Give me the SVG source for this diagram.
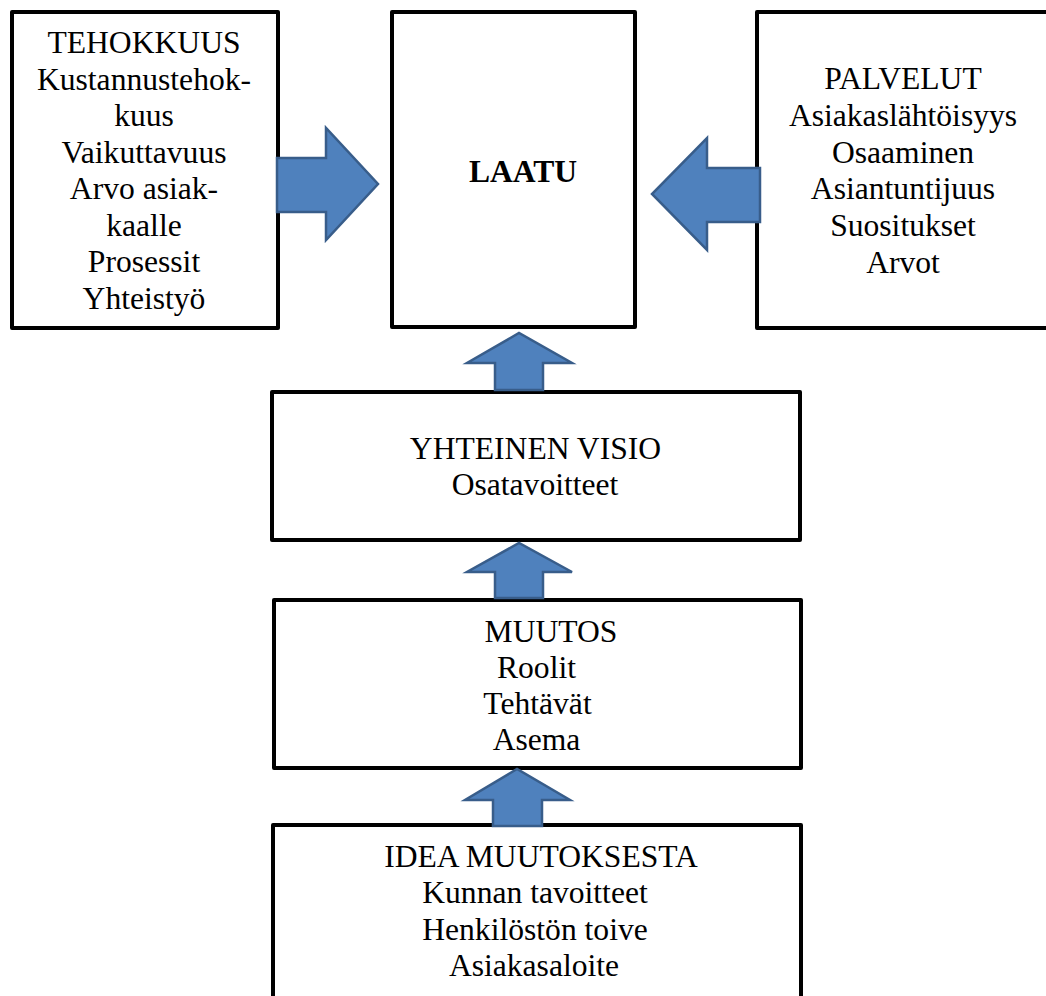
<svg xmlns="http://www.w3.org/2000/svg" width="1046" height="996" viewBox="0 0 1046 996">
<style>
.box{fill:#fff;stroke:#000;stroke-width:4;stroke-linejoin:round}
.t{font-family:'Liberation Serif','Times New Roman',serif;font-size:31.6px;fill:#000;text-anchor:middle}
.b{font-weight:bold}
.arr{fill:#4F81BD;stroke:#385D8A;stroke-width:2.5;stroke-linejoin:miter}
</style>
<rect width="1046" height="996" fill="#fff"/>
<g id="tehokkuus">
<rect class="box" x="12" y="12" width="266" height="316"/>
<text class="t" x="144" y="53">TEHOKKUUS</text>
<text class="t" x="144" y="89.5">Kustannustehok-</text>
<text class="t" x="144" y="126">kuus</text>
<text class="t" x="144" y="162.5">Vaikuttavuus</text>
<text class="t" x="144" y="199">Arvo asiak-</text>
<text class="t" x="144" y="235.5">kaalle</text>
<text class="t" x="144" y="272">Prosessit</text>
<text class="t" x="144" y="308.5">Yhteistyö</text>
</g>
<g id="laatu">
<rect class="box" x="392" y="12" width="243" height="315"/>
<text class="t b" x="523" y="182">LAATU</text>
</g>
<g id="palvelut">
<rect class="box" x="757" y="12" width="300" height="316"/>
<text class="t" x="903" y="89">PALVELUT</text>
<text class="t" x="903" y="126">Asiakaslähtöisyys</text>
<text class="t" x="903" y="163">Osaaminen</text>
<text class="t" x="903" y="199">Asiantuntijuus</text>
<text class="t" x="903" y="235.5">Suositukset</text>
<text class="t" x="903" y="272.5">Arvot</text>
</g>
<g id="visio">
<rect class="box" x="272" y="392" width="528" height="148"/>
<text class="t" x="535.5" y="459">YHTEINEN VISIO</text>
<text class="t" x="535" y="495">Osatavoitteet</text>
</g>
<g id="muutos">
<rect class="box" x="274" y="600" width="527" height="168"/>
<text class="t" x="551" y="642">MUUTOS</text>
<text class="t" x="536.5" y="678">Roolit</text>
<text class="t" x="537.5" y="714">Tehtävät</text>
<text class="t" x="536.5" y="750">Asema</text>
</g>
<g id="idea">
<rect class="box" x="273" y="825" width="528" height="190"/>
<text class="t" x="541" y="867">IDEA MUUTOKSESTA</text>
<text class="t" x="535" y="903">Kunnan tavoitteet</text>
<text class="t" x="535" y="939.5">Henkilöstön toive</text>
<text class="t" x="534" y="976">Asiakasaloite</text>
</g>
<g id="connectors">
<polygon class="arr" points="277,158 326,158 326,128 378,184 326,240 326,212 277,212"/>
<polygon class="arr" points="760,168 707,168 707,138 652,194 707,250 707,222 760,222"/>
<polygon class="arr" points="495,390 495,363 467,363 519,333 572,363 543,363 543,390"/>
<polygon class="arr" points="495,598 495,572 467,572 519,543 572,572 543,572 543,598"/>
<polygon class="arr" points="493,826 493,800 465,800 517,769 570,800 542,800 542,826"/>
</g>
</svg>
